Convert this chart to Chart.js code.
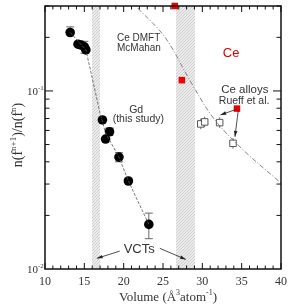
<!DOCTYPE html>
<html>
<head>
<meta charset="utf-8">
<script src="https://cdn.jsdelivr.net/npm/chart.js@4/dist/chart.umd.min.js"></script>
<style>
  html, body { margin: 0; padding: 0; background: #fff; }
  canvas { display: block; }
</style>
</head>
<body>
<canvas id="chart" width="291" height="306"></canvas>
<script>
// Gd (this study)
const gdVolume = [13.2, 14.2, 14.6, 15.0, 15.2, 17.3, 18.2, 17.7, 19.4, 20.6, 23.2];
const gdRatio = [0.213, 0.183, 0.181, 0.177, 0.170, 0.0687, 0.059, 0.0537, 0.0425, 0.0312, 0.0178];
const gdErrLow = [null, null, null, 0.163, null, null, 0.0565, null, 0.040, null, 0.0148];
const gdErrHigh = [0.229, null, null, 0.19, null, null, 0.062, null, 0.045, null, 0.0206];
// guide line through the Gd points
const gdLineVolume = [13.2, 15.2, 17.0, 17.7, 19.4, 20.6, 23.2];
const gdLineRatio = [0.213, 0.170, 0.075, 0.058, 0.0425, 0.0312, 0.0178];
// Ce DMFT (McMahan)
const ceVolume = [26.5, 27.4, 34.4];
const ceRatio = [0.30, 0.115, 0.0796];
const dmftVolume = [21.8, 25.3, 28.4, 31.4, 35.2, 40];
const dmftRatio = [0.292, 0.199, 0.115, 0.0705, 0.0466, 0.0304];
// Ce alloys (Rueff et al.)
const alloyVolume = [29.8, 30.3, 32.2, 33.9];
const alloyRatio = [0.0653, 0.067, 0.0664, 0.0508];
// volume collapse transitions
const vctBands = [[16.0, 17.0], [26.7, 29.1]];
const xTicks = [10, 15, 20, 25, 30, 35, 40];

const toXY = (xs, ys) => xs.map((x, i) => ({x: x, y: ys[i]}));

const notes = [
    {text: 'Ce DMFT', x: 19.15, y: 0.197, size: 10, color: '#333'},
    {text: 'McMahan', x: 19.15, y: 0.173, size: 10, color: '#333'},
    {text: 'Ce', x: 32.6, y: 0.163, size: 13, color: '#e00000'},
    {text: 'Gd', x: 20.7, y: 0.0782, size: 10.5, color: '#333'},
    {text: '(this study)', x: 18.6, y: 0.0692, size: 10.5, color: '#333'},
    {text: 'Ce alloys', x: 32.4, y: 0.102, size: 11.5, color: '#333'},
    {text: 'Rueff et al.', x: 32.1, y: 0.0882, size: 10.5, color: '#333'},
    {text: 'VCTs', x: 20.0, y: 0.0128, size: 13, color: '#333'}
];
const arrows = [
    [34.36, 0.0790, 32.3, 0.0733],
    [34.57, 0.0780, 34.15, 0.0553],
    [19.5, 0.0126, 16.6, 0.01148],
    [24.6, 0.01306, 27.9, 0.01132]
];

function stipple(ctx) {
    const c = document.createElement('canvas');
    c.width = 3; c.height = 3;
    const p = c.getContext('2d');
    p.fillStyle = '#ececec';
    p.fillRect(0, 0, 3, 3);
    p.fillStyle = '#cfcfcf';
    p.fillRect(0, 0, 1, 1);
    p.fillRect(1, 2, 1, 1);
    p.fillRect(2, 1, 1, 1);
    return ctx.createPattern(c, 'repeat');
}

function arrow(ctx, x1, y1, x2, y2) {
    const a = Math.atan2(y2 - y1, x2 - x1);
    ctx.beginPath();
    ctx.moveTo(x1, y1);
    ctx.lineTo(x2, y2);
    ctx.stroke();
    ctx.beginPath();
    ctx.moveTo(x2, y2);
    ctx.lineTo(x2 - 6 * Math.cos(a - 0.3), y2 - 6 * Math.sin(a - 0.3));
    ctx.lineTo(x2 - 6 * Math.cos(a + 0.3), y2 - 6 * Math.sin(a + 0.3));
    ctx.closePath();
    ctx.fill();
}

const decor = {
    id: 'decor',
    beforeDatasetsDraw(chart) {
        const {ctx, chartArea: a, scales: {x, y}} = chart;
        ctx.save();
        ctx.fillStyle = stipple(ctx);
        vctBands.forEach(b => {
            const x1 = Math.round(x.getPixelForValue(b[0])), x2 = Math.round(x.getPixelForValue(b[1]));
            ctx.fillRect(x1, a.top, x2 - x1, a.bottom - a.top);
        });
        // error bars
        ctx.strokeStyle = '#444';
        ctx.lineWidth = 0.8;
        gdVolume.forEach((v, i) => {
            const px = x.getPixelForValue(v);
            [gdErrLow[i], gdErrHigh[i]].forEach(e => {
                if (e === null) return;
                const py = y.getPixelForValue(e);
                ctx.beginPath();
                ctx.moveTo(px, y.getPixelForValue(gdRatio[i]));
                ctx.lineTo(px, py);
                ctx.moveTo(px - 4, py);
                ctx.lineTo(px + 4, py);
                ctx.stroke();
            });
        });
        alloyVolume.forEach((v, i) => {
            const px = x.getPixelForValue(v);
            ctx.beginPath();
            ctx.moveTo(px, y.getPixelForValue(alloyRatio[i] * 1.07));
            ctx.lineTo(px, y.getPixelForValue(alloyRatio[i] / 1.07));
            ctx.stroke();
        });
        ctx.restore();
    },
    afterDatasetsDraw(chart) {
        const {ctx, chartArea: a, scales: {x, y}} = chart;
        ctx.save();
        // frame
        ctx.strokeStyle = '#111';
        ctx.lineWidth = 1.5;
        ctx.strokeRect(a.left, a.top, a.right - a.left, a.bottom - a.top);
        // inward ticks
        ctx.lineWidth = 1;
        ctx.beginPath();
        for (let v = 10; v <= 40; v++) {
            const px = x.getPixelForValue(v);
            const len = v % 5 === 0 ? 6 : 3.5;
            ctx.moveTo(px, a.bottom); ctx.lineTo(px, a.bottom - len);
            ctx.moveTo(px, a.top); ctx.lineTo(px, a.top + len);
        }
        [0.02, 0.03, 0.04, 0.05, 0.06, 0.07, 0.08, 0.09, 0.1, 0.2, 0.3].forEach(v => {
            const py = y.getPixelForValue(v);
            const len = v === 0.1 ? 8 : 4.5;
            ctx.moveTo(a.left, py); ctx.lineTo(a.left + len, py);
            ctx.moveTo(a.right, py); ctx.lineTo(a.right - len, py);
        });
        ctx.stroke();

        // tick labels
        ctx.fillStyle = '#333';
        ctx.font = '12px "Liberation Serif", serif';
        ctx.textAlign = 'center';
        ctx.textBaseline = 'middle';
        xTicks.forEach(v => ctx.fillText(String(v), x.getPixelForValue(v), a.bottom + 13));
        [[0.1, '-1'], [0.01, '-2']].forEach(t => {
            const py = y.getPixelForValue(t[0]);
            ctx.font = '11px "Liberation Serif", serif';
            ctx.textAlign = 'right';
            ctx.fillText('10', a.left - 7, py + 1);
            ctx.font = '7px "Liberation Serif", serif';
            ctx.textAlign = 'left';
            ctx.fillText(t[1], a.left - 7, py - 3);
        });

        // x title
        ctx.textAlign = 'left';
        ctx.textBaseline = 'alphabetic';
        const parts = [['Volume (Å', 13, 0], ['3', 8, -6], ['atom', 13, 0], ['-1', 8, -6], [')', 13, 0]];
        let total = 0;
        parts.forEach(p => { ctx.font = p[1] + 'px "Liberation Serif", serif'; total += ctx.measureText(p[0]).width; });
        let cx = (a.left + a.right) / 2 - total / 2 + 5;
        parts.forEach(p => {
            ctx.font = p[1] + 'px "Liberation Serif", serif';
            ctx.fillText(p[0], cx, 301 + p[2]);
            cx += ctx.measureText(p[0]).width;
        });

        // y title
        ctx.translate(22, 135);
        ctx.rotate(-Math.PI / 2);
        const yparts = [['n(f', 14, 0], ['n+1', 9, -6], [')/n(f', 14, 0], ['n', 9, -6], [')', 14, 0]];
        total = 0;
        yparts.forEach(p => { ctx.font = p[1] + 'px "Liberation Serif", serif'; total += ctx.measureText(p[0]).width; });
        cx = -total / 2;
        yparts.forEach(p => {
            ctx.font = p[1] + 'px "Liberation Serif", serif';
            ctx.fillText(p[0], cx, p[2]);
            cx += ctx.measureText(p[0]).width;
        });
        ctx.setTransform(1, 0, 0, 1, 0, 0);

        // annotations
        ctx.textBaseline = 'middle';
        ctx.textAlign = 'left';
        notes.forEach(n => {
            ctx.fillStyle = n.color;
            ctx.font = n.size + 'px "Liberation Sans", Arial, sans-serif';
            ctx.fillText(n.text, x.getPixelForValue(n.x), y.getPixelForValue(n.y));
        });
        ctx.strokeStyle = '#222';
        ctx.fillStyle = '#222';
        ctx.lineWidth = 0.8;
        arrows.forEach(r => arrow(ctx, x.getPixelForValue(r[0]), y.getPixelForValue(r[1]),
            x.getPixelForValue(r[2]), y.getPixelForValue(r[3])));
        ctx.restore();
    }
};

const config = {
    type: 'scatter',
    data: {
        datasets: [
            {
                type: 'line',
                data: toXY(dmftVolume, dmftRatio),
                borderColor: '#777',
                borderWidth: 0.9,
                borderDash: [5, 2, 1, 2],
                tension: 0.35,
                pointRadius: 0,
                fill: false
            },
            {
                type: 'line',
                data: toXY(gdLineVolume, gdLineRatio),
                borderColor: '#555',
                borderWidth: 0.8,
                borderDash: [3, 1.5],
                pointRadius: 0,
                fill: false
            },
            {
                data: toXY(alloyVolume, alloyRatio),
                pointStyle: 'rect',
                pointRadius: 4.6,
                backgroundColor: '#fff',
                borderColor: '#555',
                borderWidth: 1
            },
            {
                data: toXY(gdVolume, gdRatio),
                pointStyle: 'circle',
                pointRadius: 4.8,
                backgroundColor: '#000',
                borderColor: '#000',
                borderWidth: 0
            },
            {
                data: toXY(ceVolume, ceRatio),
                pointStyle: 'rect',
                pointRadius: 4.6,
                backgroundColor: '#ee0000',
                borderColor: '#ee0000',
                borderWidth: 0,
                clip: false
            }
        ]
    },
    options: {
        responsive: false,
        animation: false,
        devicePixelRatio: 1,
        layout: {padding: {top: 6, right: 10, left: 0, bottom: 0}},
        plugins: {legend: {display: false}, tooltip: {enabled: false}},
        scales: {
            x: {
                type: 'linear',
                min: 10,
                max: 40,
                grid: {display: false},
                border: {display: false},
                ticks: {display: false},
                afterFit: (s) => { s.height = 37; }
            },
            y: {
                type: 'logarithmic',
                min: 0.01,
                max: 0.3,
                grid: {display: false},
                border: {display: false},
                ticks: {display: false},
                afterFit: (s) => { s.width = 45; }
            }
        }
    },
    plugins: [decor]
};

const myChart = new Chart(document.getElementById('chart'), config);
</script>
</body>
</html>
